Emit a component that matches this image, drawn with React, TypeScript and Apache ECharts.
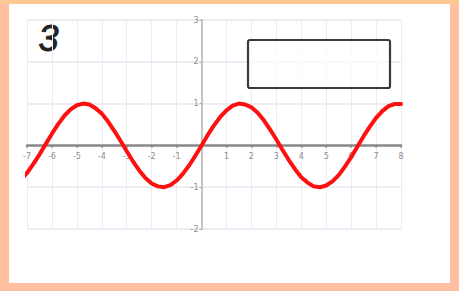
import React, { useEffect, useRef } from "react";
import * as echarts from "echarts";

const xValues = [-7.15, -7, -6.75, -6.5, -6.25, -6, -5.75, -5.5, -5.25, -5, -4.75, -4.5, -4.25, -4, -3.75, -3.5, -3.25, -3, -2.75, -2.5, -2.25, -2, -1.75, -1.5, -1.25, -1, -0.75, -0.5, -0.25, 0, 0.25, 0.5, 0.75, 1, 1.25, 1.5, 1.75, 2, 2.25, 2.5, 2.75, 3, 3.25, 3.5, 3.75, 4, 4.25, 4.5, 4.75, 5, 5.25, 5.5, 5.75, 6, 6.25, 6.5, 6.75, 7, 7.25, 7.5, 7.75, 8];
const yValues = [-0.76, -0.66, -0.45, -0.22, 0.03, 0.28, 0.51, 0.71, 0.86, 0.96, 1.0, 0.98, 0.89, 0.76, 0.57, 0.35, 0.11, -0.14, -0.38, -0.6, -0.78, -0.91, -0.98, -1.0, -0.95, -0.84, -0.68, -0.48, -0.25, 0, 0.25, 0.48, 0.68, 0.84, 0.95, 1.0, 0.98, 0.91, 0.78, 0.6, 0.38, 0.14, -0.11, -0.35, -0.57, -0.76, -0.89, -0.98, -1.0, -0.96, -0.86, -0.71, -0.51, -0.28, -0.03, 0.22, 0.45, 0.66, 0.82, 0.94, 0.99, 0.99];
const xRange = [-7, 8];
const yRange = [-2, 3];
const panelLabel = "3";

const W = 459;
const H = 291;
const G = { left: 27, right: 58, top: 20, bottom: 62 };

export default function App() {
  const ref = useRef<HTMLDivElement>(null);
  useEffect(() => {
    if (!ref.current) return;
    const chart = echarts.init(ref.current, null, { renderer: "svg" });
    const data = xValues.map((x, i) => [x, yValues[i]]);
    const plotW = W - G.left - G.right;
    const plotH = H - G.top - G.bottom;
    const x0 = G.left + ((0 - xRange[0]) / (xRange[1] - xRange[0])) * plotW;
    const y0 = G.top + ((yRange[1] - 0) / (yRange[1] - yRange[0])) * plotH;
    const fmt = (v: number) => (v === 0 ? "" : String(v));
    const labelStyle = { fontSize: 8, color: "#8e8e8e", fontFamily: "DejaVu Sans" };
    chart.setOption({
      animation: false,
      backgroundColor: "transparent",
      grid: [
        { left: G.left, right: G.right, top: G.top, bottom: G.bottom },
        { left: G.left, right: G.right, top: G.top, bottom: H - y0 },
        { left: x0, right: G.right, top: G.top, bottom: G.bottom },
      ],
      xAxis: [
        {
          gridIndex: 0,
          type: "value",
          min: xRange[0],
          max: xRange[1],
          interval: 1,
          axisLine: { show: false },
          axisTick: { show: false },
          axisLabel: { show: false },
          splitLine: { show: true, lineStyle: { color: "#ececf2", width: 1 } },
        },
        {
          gridIndex: 1,
          type: "value",
          min: xRange[0],
          max: xRange[1],
          interval: 1,
          position: "bottom",
          axisLine: { onZero: false, lineStyle: { color: "#8a8a8a", width: 2.5 } },
          axisTick: { show: true, length: 2, lineStyle: { color: "#888", width: 2 } },
          axisLabel: { ...labelStyle, margin: 7, formatter: fmt },
          splitLine: { show: false },
        },
        {
          gridIndex: 2,
          type: "value",
          min: 0,
          max: xRange[1],
          show: false,
        },
      ],
      yAxis: [
        {
          gridIndex: 0,
          type: "value",
          min: yRange[0],
          max: yRange[1],
          interval: 1,
          axisLine: { show: false },
          axisTick: { show: false },
          axisLabel: { show: false },
          splitLine: { show: true, lineStyle: { color: "#e6e6f0", width: 1.5 } },
        },
        {
          gridIndex: 1,
          type: "value",
          min: 0,
          max: yRange[1],
          show: false,
        },
        {
          gridIndex: 2,
          type: "value",
          min: yRange[0],
          max: yRange[1],
          interval: 1,
          position: "left",
          axisLine: { onZero: false, lineStyle: { color: "#c4c4c4", width: 2 } },
          axisTick: { show: true, length: 2, lineStyle: { color: "#aaa" } },
          axisLabel: { ...labelStyle, margin: 3, formatter: fmt },
          splitLine: { show: false },
        },
      ],
      series: [
        {
          type: "line",
          xAxisIndex: 0,
          yAxisIndex: 0,
          data,
          smooth: false,
          showSymbol: false,
          clip: false,
          lineStyle: { color: "#ff1010", width: 4, cap: "round", join: "round" },
          itemStyle: { color: "#ff1010" },
          z: 5,
        },
      ],
      graphic: [
        {
          type: "text",
          left: 38,
          top: 20,
          style: {
            text: panelLabel,
            fontSize: 36,
            fontStyle: "italic",
            fontFamily: "Liberation Sans",
            fill: "#222222",
            stroke: "#222222",
            lineWidth: 0.9,
          },
        },
        {
          type: "rect",
          shape: { x: 248, y: 40, width: 142, height: 48, r: 2 },
          style: { fill: "rgba(255,255,255,0.75)", stroke: "#3a3a3a", lineWidth: 2.2 },
          z: 10,
        },
      ],
    });
    return () => chart.dispose();
  }, []);
  return (
    <div style={{ position: "absolute", left: 0, top: 0, width: W, height: H, background: "#ffbfa0", overflow: "hidden" }}>
      <div style={{ position: "absolute", left: 0, top: 0, width: W, height: 4, background: "#ffc892" }} />
      <div style={{ position: "absolute", left: 9, top: 4, width: 441, height: 279, background: "#ffffff" }} />
      <div ref={ref} style={{ position: "absolute", left: 0, top: 0, width: W, height: H }} />
    </div>
  );
}
